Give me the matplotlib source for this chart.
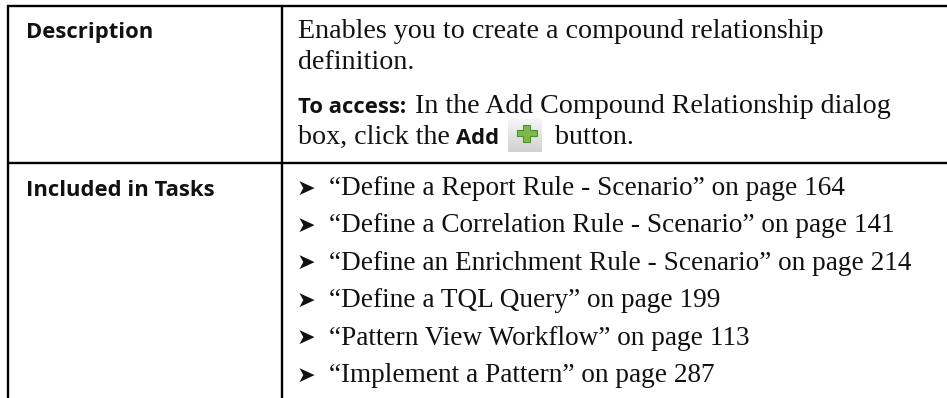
import matplotlib

matplotlib.use("Agg")
import matplotlib.pyplot as plt
import numpy as np
from matplotlib.patches import Polygon

WIDTH = 947
HEIGHT = 398
SERIF = "Liberation Serif"
SANS = "Open Sans"
INK = "#111111"

row_labels = ["Description", "Included in Tasks"]
description_lines = ["Enables you to create a compound relationship", "definition."]
task_names = [
    "“Define a Report Rule - Scenario” on page 164",
    "“Define a Correlation Rule - Scenario” on page 141",
    "“Define an Enrichment Rule - Scenario” on page 214",
    "“Define a TQL Query” on page 199",
    "“Pattern View Workflow” on page 113",
    "“Implement a Pattern” on page 287",
]

fig = plt.figure(figsize=(WIDTH / 100, HEIGHT / 100), dpi=100)
ax = fig.add_axes([0, 0, 1, 1])
ax.set_xlim(0, WIDTH)
ax.set_ylim(HEIGHT, 0)
ax.set_axis_off()


def body(x, y, text, bold=False, size=20.2):
    ax.text(x, y, text, family=SANS if bold else SERIF, fontsize=15.8 if bold else size,
            fontweight="bold" if bold else "normal", color=INK, va="baseline")


# table rules
ax.plot([7, WIDTH], [5.8, 5.8], color="black", lw=1.7, solid_capstyle="butt")
ax.plot([7, WIDTH], [163, 163], color="black", lw=1.7, solid_capstyle="butt")
ax.plot([7.5, 7.5], [5, HEIGHT], color="black", lw=1.7, solid_capstyle="butt")
ax.plot([282, 282], [5, HEIGHT], color="black", lw=1.7, solid_capstyle="butt")

body(26, 38, row_labels[0], bold=True)
body(26, 196, row_labels[1], bold=True)

body(298, 38, description_lines[0])
body(298, 69, description_lines[1])

body(298, 113, "To access:", bold=True)
body(415, 113, "In the Add Compound Relationship dialog")
body(298, 144, "box, click the")
body(456, 144, "Add", bold=True)
body(555, 144, "button.")

# toolbar button with the green plus
ax.imshow(np.linspace(0.96, 0.82, 32).reshape(-1, 1), cmap="gray", vmin=0, vmax=1,
          extent=(508, 542, 152, 119), aspect="auto", zorder=1)
ax.set_xlim(0, WIDTH)
ax.set_ylim(HEIGHT, 0)
plus = [(523, 124.5), (530, 124.5), (530, 130), (536.5, 130), (536.5, 136), (530, 136),
        (530, 142), (523, 142), (523, 136), (516.5, 136), (516.5, 130), (523, 130)]
ax.add_patch(Polygon(plus, closed=True, facecolor="#7cb84a", edgecolor="#4f8f2d", lw=0.8, zorder=2))

for i, task in enumerate(task_names):
    y = 195 + i * 37.4
    ax.text(296.5, y - 0.5, "➤", family="DejaVu Sans", fontsize=16, color=INK, va="baseline")
    body(329, y, task, size=19.6)

fig.savefig("out.png", dpi=100)
